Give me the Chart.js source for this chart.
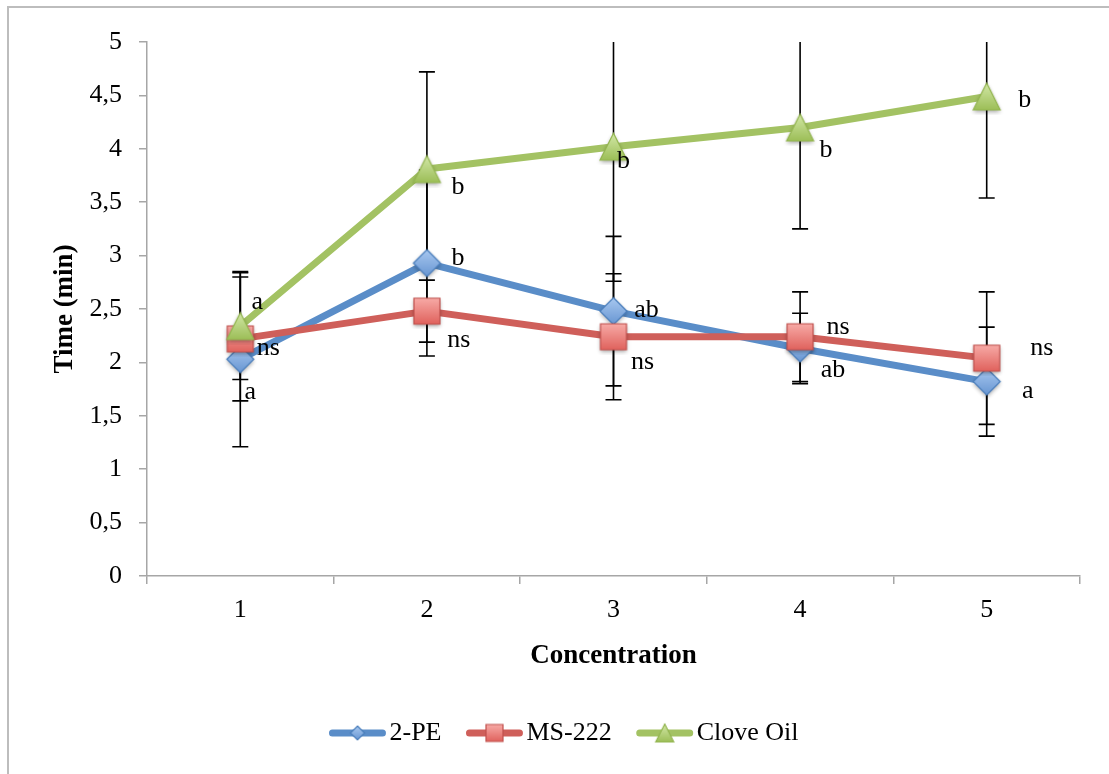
<!DOCTYPE html>
<html>
<head>
<meta charset="utf-8">
<script src="https://cdn.jsdelivr.net/npm/chart.js@4"></script>
<style>
  html, body { margin: 0; padding: 0; background: #ffffff; overflow: hidden; }
  #frame { position: absolute; left: 7px; top: 6px; width: 1200px; height: 900px; border: 2px solid #bdbdbd; box-sizing: border-box; }
  #wrap { position: absolute; left: 0; top: 0; width: 1109px; height: 774px; }
</style>
</head>
<body>
<div id="frame"></div>
<div id="wrap"><canvas id="c" width="1109" height="774"></canvas></div>
<script>
// ---- data ----
const categories = ['1', '2', '3', '4', '5'];
const seriesNames = ['2-PE', 'MS-222', 'Clove Oil'];
const pe = [2.03, 2.93, 2.48, 2.13, 1.82];
const peErr = [0.82, 0.87, 0.70, 0.33, 0.51];
const ms = [2.22, 2.48, 2.24, 2.24, 2.04];
const msErr = [0.58, 0.29, 0.59, 0.42, 0.62];
const clove = [2.34, 3.81, 4.02, 4.20, 4.49];
const cloveErr = [0.50, 0.91, 1.26, 0.95, 0.95];
const peLabels = ['a', 'b', 'ab', 'ab', 'a'];
const msLabels = ['ns', 'ns', 'ns', 'ns', 'ns'];
const cloveLabels = ['a', 'b', 'b', 'b', 'b'];
const yTickLabels = ['0', '0,5', '1', '1,5', '2', '2,5', '3', '3,5', '4', '4,5', '5'];

// ---- styling ----
const FONT = "'Liberation Serif', 'DejaVu Serif', serif";
const AXIS_GRAY = '#a6a6a6';
const styles = [
  { line: '#5a8dc8', top: '#a8c8f0', bottom: '#6896d2', stroke: '#4a7ebb', shape: 'diamond' },
  { line: '#cf5f5a', top: '#f7aaa6', bottom: '#e0625d', stroke: '#c0504d', shape: 'square' },
  { line: '#a3c263', top: '#d3e8a8', bottom: '#9cbe57', stroke: '#93b551', shape: 'triangle' }
];
// label offsets (pixels from the data point) for annotation letters
const peOff = [[10, 33], [31, -5], [33, -1], [33, 22], [41, 10]];
const msOff = [[28, 9], [32, 29], [29, 25], [38, -10], [55, -10]];
const cloveOff = [[17, -24], [31, 18], [10, 15], [26, 23], [38, 4]];

function shapePath(ctx, shape, cx, cy, s) {
  const h = s / 2;
  ctx.beginPath();
  if (shape === 'diamond') {
    ctx.moveTo(cx, cy - h); ctx.lineTo(cx + h, cy); ctx.lineTo(cx, cy + h); ctx.lineTo(cx - h, cy);
  } else if (shape === 'square') {
    ctx.rect(cx - h, cy - h, s, s);
  } else {
    ctx.moveTo(cx, cy - h); ctx.lineTo(cx + h, cy + h); ctx.lineTo(cx - h, cy + h);
  }
  ctx.closePath();
}
function makeMarker(st, size, shadow) {
  const pad = 5;
  const c = document.createElement('canvas');
  c.width = size + pad * 2; c.height = size + pad * 2;
  const ctx = c.getContext('2d');
  const cx = c.width / 2, cy = c.height / 2;
  const g = ctx.createLinearGradient(0, cy - size / 2, 0, cy + size / 2);
  g.addColorStop(0, st.top); g.addColorStop(1, st.bottom);
  if (shadow) {
    ctx.save();
    ctx.shadowColor = 'rgba(0,0,0,0.35)'; ctx.shadowBlur = 4; ctx.shadowOffsetY = 2;
    shapePath(ctx, st.shape, cx, cy, size);
    ctx.fillStyle = st.bottom; ctx.fill();
    ctx.restore();
  }
  shapePath(ctx, st.shape, cx, cy, size);
  ctx.fillStyle = g; ctx.fill();
  ctx.lineWidth = 1.2; ctx.strokeStyle = st.stroke; ctx.stroke();
  return c;
}
const markerSizes = [27, 26, 27];
const legendMarkerSizes = [14, 17, 18];
const markers = styles.map((s, i) => makeMarker(s, markerSizes[i], true));
const legendMarkers = styles.map((s, i) => makeMarker(s, legendMarkerSizes[i], false));

const values = [pe, ms, clove];
const errors = [peErr, msErr, cloveErr];
const letters = [peLabels, msLabels, cloveLabels];
const offsets = [peOff, msOff, cloveOff];

const errorBarPlugin = {
  id: 'errorBars',
  beforeDatasetsDraw(chart) {
    const { ctx, chartArea, scales } = chart;
    ctx.save();
    ctx.beginPath();
    ctx.rect(chartArea.left, chartArea.top, chartArea.right - chartArea.left, chartArea.bottom - chartArea.top);
    ctx.clip();
    ctx.strokeStyle = '#000000';
    ctx.lineWidth = 1.6;
    values.forEach((vals, d) => {
      vals.forEach((v, i) => {
        const x = scales.x.getPixelForValue(i);
        const yT = scales.y.getPixelForValue(v + errors[d][i]);
        const yB = scales.y.getPixelForValue(v - errors[d][i]);
        ctx.beginPath();
        ctx.moveTo(x, yT); ctx.lineTo(x, yB);
        ctx.moveTo(x - 8, yT); ctx.lineTo(x + 8, yT);
        ctx.moveTo(x - 8, yB); ctx.lineTo(x + 8, yB);
        ctx.stroke();
      });
    });
    ctx.restore();
  }
};

const annotationPlugin = {
  id: 'letters',
  afterDatasetsDraw(chart) {
    const { ctx, scales } = chart;
    ctx.save();
    ctx.font = '26px ' + FONT;
    ctx.fillStyle = '#000000';
    ctx.textAlign = 'center';
    ctx.textBaseline = 'middle';
    letters.forEach((arr, d) => {
      arr.forEach((t, i) => {
        const x = scales.x.getPixelForValue(i) + offsets[d][i][0];
        const y = scales.y.getPixelForValue(values[d][i]) + offsets[d][i][1];
        ctx.fillText(t, x, y);
      });
    });
    ctx.restore();
  }
};

const legendPlugin = {
  id: 'lineLegend',
  afterDraw(chart) {
    const { ctx } = chart;
    ctx.save();
    ctx.font = '26px ' + FONT;
    const lineLen = 56, gapText = 4, gapItem = 25, yC = 733;
    const widths = seriesNames.map(n => lineLen + gapText + ctx.measureText(n).width);
    const total = widths.reduce((a, b) => a + b, 0) + gapItem * (seriesNames.length - 1);
    let x = 564 - total / 2;
    seriesNames.forEach((n, i) => {
      ctx.strokeStyle = styles[i].line;
      ctx.lineWidth = 7;
      ctx.lineCap = 'round';
      ctx.beginPath();
      ctx.moveTo(x + 3, yC); ctx.lineTo(x + lineLen - 3, yC);
      ctx.stroke();
      const m = legendMarkers[i];
      ctx.drawImage(m, x + lineLen / 2 - m.width / 2, yC - m.height / 2);
      ctx.fillStyle = '#000000';
      ctx.textAlign = 'left';
      ctx.textBaseline = 'middle';
      ctx.fillText(n, x + lineLen + gapText, yC);
      x += widths[i] + gapItem;
    });
    ctx.restore();
  }
};

const datasets = values.map((vals, i) => ({
  label: seriesNames[i],
  data: vals,
  borderColor: styles[i].line,
  backgroundColor: styles[i].line,
  borderWidth: 7,
  borderCapStyle: 'round',
  borderJoinStyle: 'round',
  pointStyle: markers[i],
  pointRadius: 13,
  tension: 0,
  order: 2 - i,
  clip: false
}));

new Chart(document.getElementById('c'), {
  type: 'line',
  data: { labels: categories, datasets },
  options: {
    responsive: false,
    animation: false,
    devicePixelRatio: 1,
    layout: { padding: { left: 49, top: 42, right: 29, bottom: 102 } },
    plugins: { legend: { display: false }, tooltip: { enabled: false } },
    scales: {
      x: {
        type: 'category',
        offset: true,
        grid: { offset: true, drawOnChartArea: false, drawTicks: true, tickLength: 8, color: AXIS_GRAY, lineWidth: 1.5 },
        border: { display: true, color: AXIS_GRAY, width: 1.5 },
        ticks: { color: '#000000', font: { family: FONT, size: 26 }, padding: 11 },
        title: { display: true, text: 'Concentration', color: '#000000', font: { family: FONT, size: 27, weight: 'bold' }, padding: 0 },
        afterFit(scale) { scale.height = 96; }
      },
      y: {
        min: 0, max: 5,
        ticks: {
          stepSize: 0.5, color: '#000000', font: { family: FONT, size: 26 }, padding: 17,
          callback: (v, i) => yTickLabels[i]
        },
        grid: { drawOnChartArea: false, drawTicks: true, tickLength: 8, color: AXIS_GRAY, lineWidth: 1.5 },
        border: { display: true, color: AXIS_GRAY, width: 1.5 },
        title: { display: true, text: 'Time (min)', color: '#000000', font: { family: FONT, size: 27, weight: 'bold' }, padding: 0 },
        afterFit(scale) { scale.width = 98; }
      }
    }
  },
  plugins: [errorBarPlugin, annotationPlugin, legendPlugin]
});
</script>
</body>
</html>
